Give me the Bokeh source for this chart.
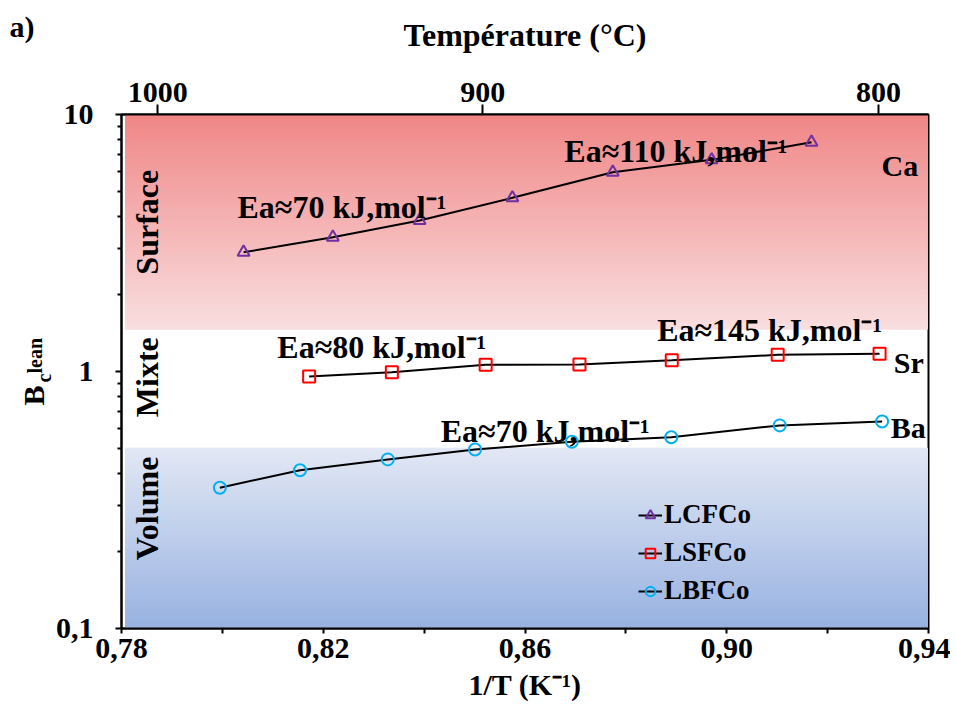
import math
import numpy as np
from bokeh.plotting import figure
from bokeh.models import (FixedTicker, LinearAxis, Label, Legend, LegendItem, Range1d, Title)
from bokeh.embed import file_html
from bokeh.resources import INLINE

# ---------------- data ----------------
ca_x = [0.8042, 0.8219, 0.8391, 0.8575, 0.8774, 0.8970, 0.9168]
ca_y = [2.91, 3.33, 3.87, 4.74, 5.96, 6.66, 7.80]
sr_x = [0.8172, 0.8336, 0.8522, 0.8708, 0.8891, 0.9101, 0.9303]
sr_y = [0.956, 0.994, 1.062, 1.065, 1.106, 1.161, 1.172]
ba_x = [0.7995, 0.8154, 0.8328, 0.8501, 0.8693, 0.8890, 0.9105, 0.9308]
ba_y = [0.353, 0.413, 0.455, 0.497, 0.533, 0.555, 0.617, 0.639]

series_names = ["LCFCo", "LSFCo", "LBFCo"]
cation_labels = ["Ca", "Sr", "Ba"]

x_ticks = [0.78, 0.82, 0.86, 0.90, 0.94]
x_minor = [0.80, 0.84, 0.88, 0.92]
x_tick_labels = ["0,78", "0,82", "0,86", "0,90", "0,94"]
y_ticks = [0.1, 1.0, 10.0]
y_tick_labels = ["0,1", "1", "10"]
y_minor = [0.2, 0.3, 0.4, 0.5, 0.6, 0.7, 0.8, 0.9, 2, 3, 4, 5, 6, 7, 8, 9]
temp_labels = ["1000", "900", "800"]
temp_tick_x = [0.7872, 0.8516, 0.9301]

# regimes (B_c^lean limits)
surface_lim = [1.46, 10.0]
volume_lim = [0.1, 0.503]
regime_names = ["Surface", "Mixte", "Volume"]
ea_texts = ["Ea\u224870 kJ,mol\u207b\u00b9", "Ea\u2248110 kJ,mol\u207b\u00b9",
            "Ea\u224880 kJ,mol\u207b\u00b9", "Ea\u2248145 kJ,mol\u207b\u00b9",
            "Ea\u224870 kJ,mol\u207b\u00b9"]

# annotation anchor positions (data units)
ea_pos = [(0.8030, 4.36), (0.8678, 7.24), (0.8109, 1.251), (0.8862, 1.444), (0.8433, 0.589)]
cation_pos = [(0.9307, 6.33), (0.9331, 1.087), (0.9325, 0.607)]
regime_pos = [(0.7850, 3.81), (0.7850, 0.950), (0.7850, 0.293)]
region_x = [0.7808, 0.9398]

FONT = "Liberation Serif"

p = figure(width=950, height=711, x_range=Range1d(0.78, 0.94), y_range=Range1d(0.1, 10),
           y_axis_type="log", output_backend="svg", toolbar_location=None,
           min_border_left=121, min_border_right=22, min_border_top=114, min_border_bottom=83)
p.grid.visible = False
p.outline_line_color = "black"
p.outline_line_width = 2
p.outline_line_alpha = 1
p.background_fill_color = "white"


def hex_of(c):
    return "#%02x%02x%02x" % tuple(int(round(v)) for v in c)


def bands(lim, c_top, c_bot, n=60):
    edges = np.logspace(math.log10(lim[0]), math.log10(lim[1]), n + 1)
    cols = []
    for i in range(n):
        f = (n - 1 - i) / (n - 1)  # 0 at top band, 1 at bottom band
        c = [c_top[k] + (c_bot[k] - c_top[k]) * f for k in range(3)]
        cols.append(hex_of(c))
    p.quad(left=[region_x[0]] * n, right=[region_x[1]] * n, bottom=edges[:-1], top=edges[1:],
           fill_color=cols, line_color=cols, line_width=1)


bands(surface_lim, (240, 135, 135), (249, 222, 223))
bands(volume_lim, (225, 231, 244), (152, 178, 225))

colors = ["#7030A0", "#FF0000", "#00B0F0"]
markers = ["triangle", "square", "circle"]
xs = [ca_x, sr_x, ba_x]
ys = [ca_y, sr_y, ba_y]
items = []
for name, xx, yy, col, mk in zip(series_names, xs, ys, colors, markers):
    r1 = p.line(xx, yy, line_color="black", line_width=2)
    r2 = p.scatter(xx, yy, marker=mk, size=12, line_color=col, line_width=2, fill_color=None)
    items.append(LegendItem(label=name, renderers=[r1, r2]))

legend = Legend(items=items, location=(517, 22), padding=0, margin=0, spacing=7,
                glyph_width=24, glyph_height=30, label_height=30, label_standoff=2,
                background_fill_alpha=0, border_line_alpha=0, label_text_color="black",
                label_text_font=FONT, label_text_font_size="27px", label_text_font_style="bold")
p.add_layout(legend)


def add_label(text, x, y, size, align="left", baseline="alphabetic", angle=0.0):
    p.add_layout(Label(x=x, y=y, text=text, text_font=FONT, text_font_size=size,
                       text_font_style="bold", text_color="black", text_align=align,
                       text_baseline=baseline, angle=angle))


for t, (x, y) in zip(ea_texts, ea_pos):
    add_label(t, x, y, "32px")
for t, (x, y) in zip(cation_labels, cation_pos):
    add_label(t, x, y, "30px")
for t, (x, y) in zip(regime_names, regime_pos):
    add_label(t, x, y, "32px", align="center", baseline="middle", angle=math.pi / 2)

# bottom axis
xa = p.xaxis[0]
xa.ticker = FixedTicker(ticks=x_ticks, minor_ticks=x_minor)
xa.major_label_overrides = dict(zip(x_ticks, x_tick_labels))
xa.axis_label = "1/T (K\u207b\u00b9)"
# left axis
ya = p.yaxis[0]
ya.ticker = FixedTicker(ticks=y_ticks, minor_ticks=y_minor)
ya.major_label_overrides = dict(zip(y_ticks, y_tick_labels))

# top axis
top = LinearAxis(ticker=FixedTicker(ticks=temp_tick_x),
                 major_label_overrides=dict(zip(temp_tick_x, temp_labels)),
                 axis_label="Température (°C)")
p.add_layout(top, "above")

for ax in [xa, ya, top]:
    ax.axis_line_width = 2
    ax.axis_line_color = "black"
    ax.major_tick_line_width = 2
    ax.minor_tick_line_width = 2
    ax.major_tick_in = 0
    ax.minor_tick_in = 0
    ax.major_label_text_font = FONT
    ax.major_label_text_font_size = "30px"
    ax.major_label_text_font_style = "bold"
    ax.major_label_text_color = "black"
    ax.axis_label_text_font = FONT
    ax.axis_label_text_font_size = "32px"
    ax.axis_label_text_font_style = "bold"
    ax.axis_label_text_color = "black"

xa.major_tick_out = 5
xa.minor_tick_out = 5
xa.major_label_standoff = 5
xa.axis_label_standoff = 7
xa.axis_label_text_font_size = "30px"
ya.major_tick_out = 6
ya.minor_tick_out = 4
ya.major_label_standoff = 22
top.major_tick_out = 10
top.major_label_standoff = 3
top.axis_label_standoff = 27

# y-axis title  B_c^lean  built from side-panel titles (c, lean, B outward)
for text, size, offset, standoff in [("c", "20px", 246, -5), ("lean", "20px", 255, -24),
                                      ("B", "30px", 223, -33)]:
    p.add_layout(Title(text=text, text_font=FONT, text_font_size=size, text_font_style="bold",
                       text_color="black", align="left", vertical_align="bottom",
                       offset=offset, standoff=standoff), "left")

# panel tag (empty first line lets it sit lower without enlarging the top border)
p.add_layout(Title(text="\na)", text_font=FONT, text_font_size="30px", text_font_style="bold",
                   text_color="black", align="left", vertical_align="bottom",
                   text_line_height=0.9, offset=-112, standoff=-60), "above")

open("out.html", "w").write(file_html(p, INLINE))
